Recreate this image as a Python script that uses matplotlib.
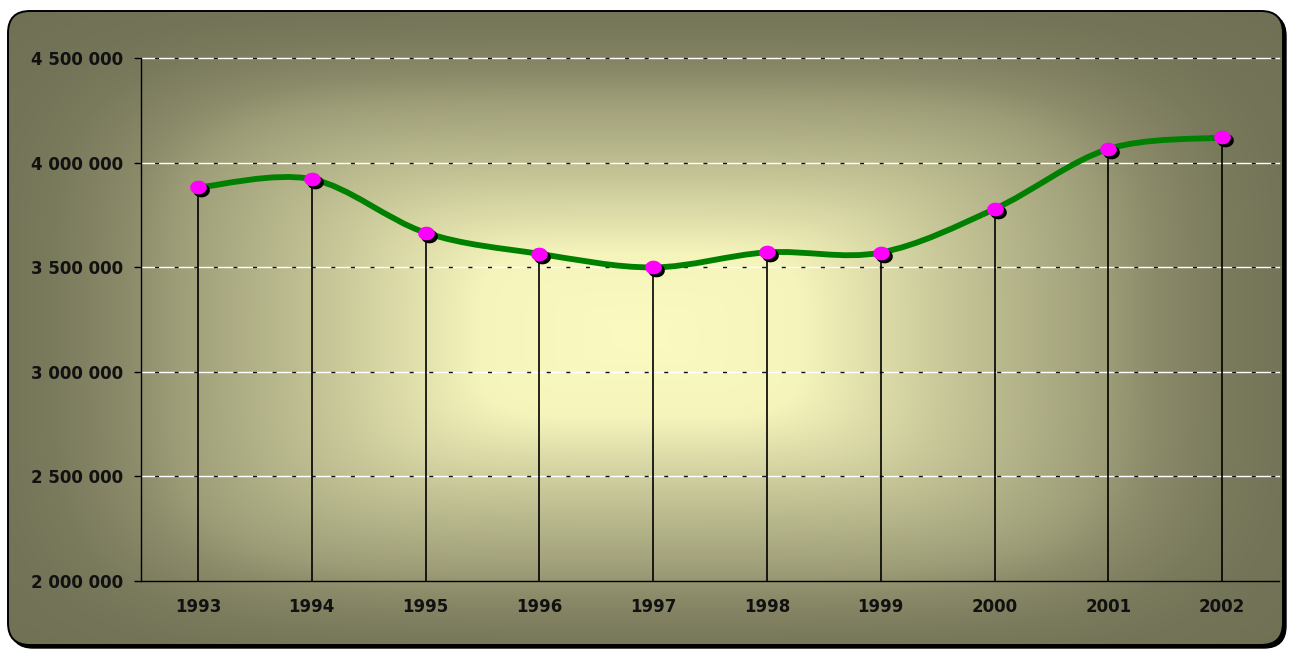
import numpy as np
import matplotlib
matplotlib.use("Agg")
import matplotlib.pyplot as plt
from matplotlib.patches import FancyBboxPatch, PathPatch
from matplotlib.path import Path
from matplotlib import transforms
from matplotlib.ticker import FuncFormatter

# ---- data ----
years = [1993, 1994, 1995, 1996, 1997, 1998, 1999, 2000, 2001, 2002]
values = [3881000, 3921000, 3665000, 3564000, 3499000, 3571000, 3570000, 3778000, 4065000, 4120000]
y_ticks = [2000000, 2500000, 3000000, 3500000, 4000000, 4500000]

W, H = 1291, 652
fig = plt.figure(figsize=(W / 100, H / 100), dpi=100)
fig.patch.set_facecolor("white")

# ---- background frame with gradient ----
bg = fig.add_axes([0, 0, 1, 1])
bg.set_xlim(0, W)
bg.set_ylim(H, 0)
bg.axis("off")

fx0, fy0, fx1, fy1 = 8, 11, 1283, 645
rad = 22
shadow = FancyBboxPatch((fx0 + 3, fy0 + 3), fx1 - fx0, fy1 - fy0,
                        boxstyle=f"round,pad=0,rounding_size={rad}",
                        facecolor="black", edgecolor="black", lw=1, zorder=0)
bg.add_patch(shadow)

yy, xx = np.mgrid[0:H, 0:W].astype(float)
cx, cy, a, b, p = 640.0, 335.0, 640.0, 325.0, 4.5
d = ((np.abs(xx - cx) / a) ** p + (np.abs(yy - cy) / b) ** p) ** (1 / p)
f = np.interp(d, [0, 0.25, 0.48, 0.73, 0.8, 0.92, 1.0, 1.15],
              [0, 0.04, 0.37, 0.68, 0.8, 0.93, 0.97, 1.0])
c0 = np.array([251, 250, 192]) / 255
c1 = np.array([112, 112, 85]) / 255
img = c0[None, None, :] * (1 - f[..., None]) + c1[None, None, :] * f[..., None]
frame = FancyBboxPatch((fx0, fy0), fx1 - fx0, fy1 - fy0,
                       boxstyle=f"round,pad=0,rounding_size={rad}",
                       facecolor="none", edgecolor="black", lw=1.4, zorder=3)
bg.add_patch(frame)
im = bg.imshow(img, extent=(0, W, H, 0), zorder=1, interpolation="bilinear")
im.set_clip_path(frame)

# ---- main axes ----
ax = fig.add_axes([141 / W, 71 / H, 1138 / W, 523 / H])
ax.set_facecolor("none")
ax.set_xlim(1992.5, 2002.5)
ax.set_ylim(2000000, 4500000)
for s in ["top", "right"]:
    ax.spines[s].set_visible(False)
ax.spines["left"].set_color("black")
ax.spines["bottom"].set_color("black")
ax.spines["left"].set_linewidth(1)
ax.spines["bottom"].set_linewidth(1)

ax.set_yticks(y_ticks)
ax.yaxis.set_major_formatter(FuncFormatter(lambda v, pos: f"{int(v):,}".replace(",", " ")))
ax.set_xticks(years)
ax.set_xticklabels([str(y) for y in years])
ax.tick_params(axis="y", length=5, width=1, direction="out", pad=8, labelsize=12)
ax.tick_params(axis="x", length=0, pad=12, labelsize=12)
for lab in ax.get_xticklabels() + ax.get_yticklabels():
    lab.set_fontweight("bold")
    lab.set_color("#111111")

# gridlines: white line with short black dashes
for v in y_ticks[1:]:
    ax.axhline(v, xmin=-6 / 1138, xmax=1, color="white", lw=1.0, clip_on=False, zorder=1)
    ax.axhline(v, xmin=-6 / 1138, xmax=1, color="#111111", lw=1.0, clip_on=False,
               dashes=(2.9, 11.2), zorder=1.1)

# drop lines
ax.vlines(years, 2000000, values, color="black", lw=1.2, zorder=2)

# smoothed line (Catmull-Rom through data points, drawn as Bezier path)
xs = np.array(years, dtype=float)
ys = np.array(values, dtype=float)
n = len(xs)
verts = [(xs[0], ys[0])]
codes = [Path.MOVETO]
for i in range(n - 1):
    p0 = np.array([xs[max(i - 1, 0)], ys[max(i - 1, 0)]])
    p1 = np.array([xs[i], ys[i]])
    p2 = np.array([xs[i + 1], ys[i + 1]])
    p3 = np.array([xs[min(i + 2, n - 1)], ys[min(i + 2, n - 1)]])
    c1p = p1 + (p2 - p0) / 6
    c2p = p2 - (p3 - p1) / 6
    verts += [tuple(c1p), tuple(c2p), tuple(p2)]
    codes += [Path.CURVE4] * 3
path = Path(verts, codes)
ax.add_patch(PathPatch(path, facecolor="none", edgecolor="#008000", lw=4.2,
                       capstyle="round", joinstyle="round", zorder=3))

# markers with shadow
t = np.linspace(0, 2 * np.pi, 60)
ell = Path(np.column_stack([np.cos(t), 0.82 * np.sin(t)]), closed=True)
shadow_tr = transforms.offset_copy(ax.transData, fig=fig, x=3, y=-3, units="dots")
ax.plot(years, values, linestyle="none", marker=ell, markersize=12,
        color="black", markeredgewidth=0, transform=shadow_tr, zorder=4)
ax.plot(years, values, linestyle="none", marker=ell, markersize=12,
        color="#FF00FF", markeredgewidth=0, zorder=5)

fig.savefig("out.png", dpi=100, facecolor="white")
